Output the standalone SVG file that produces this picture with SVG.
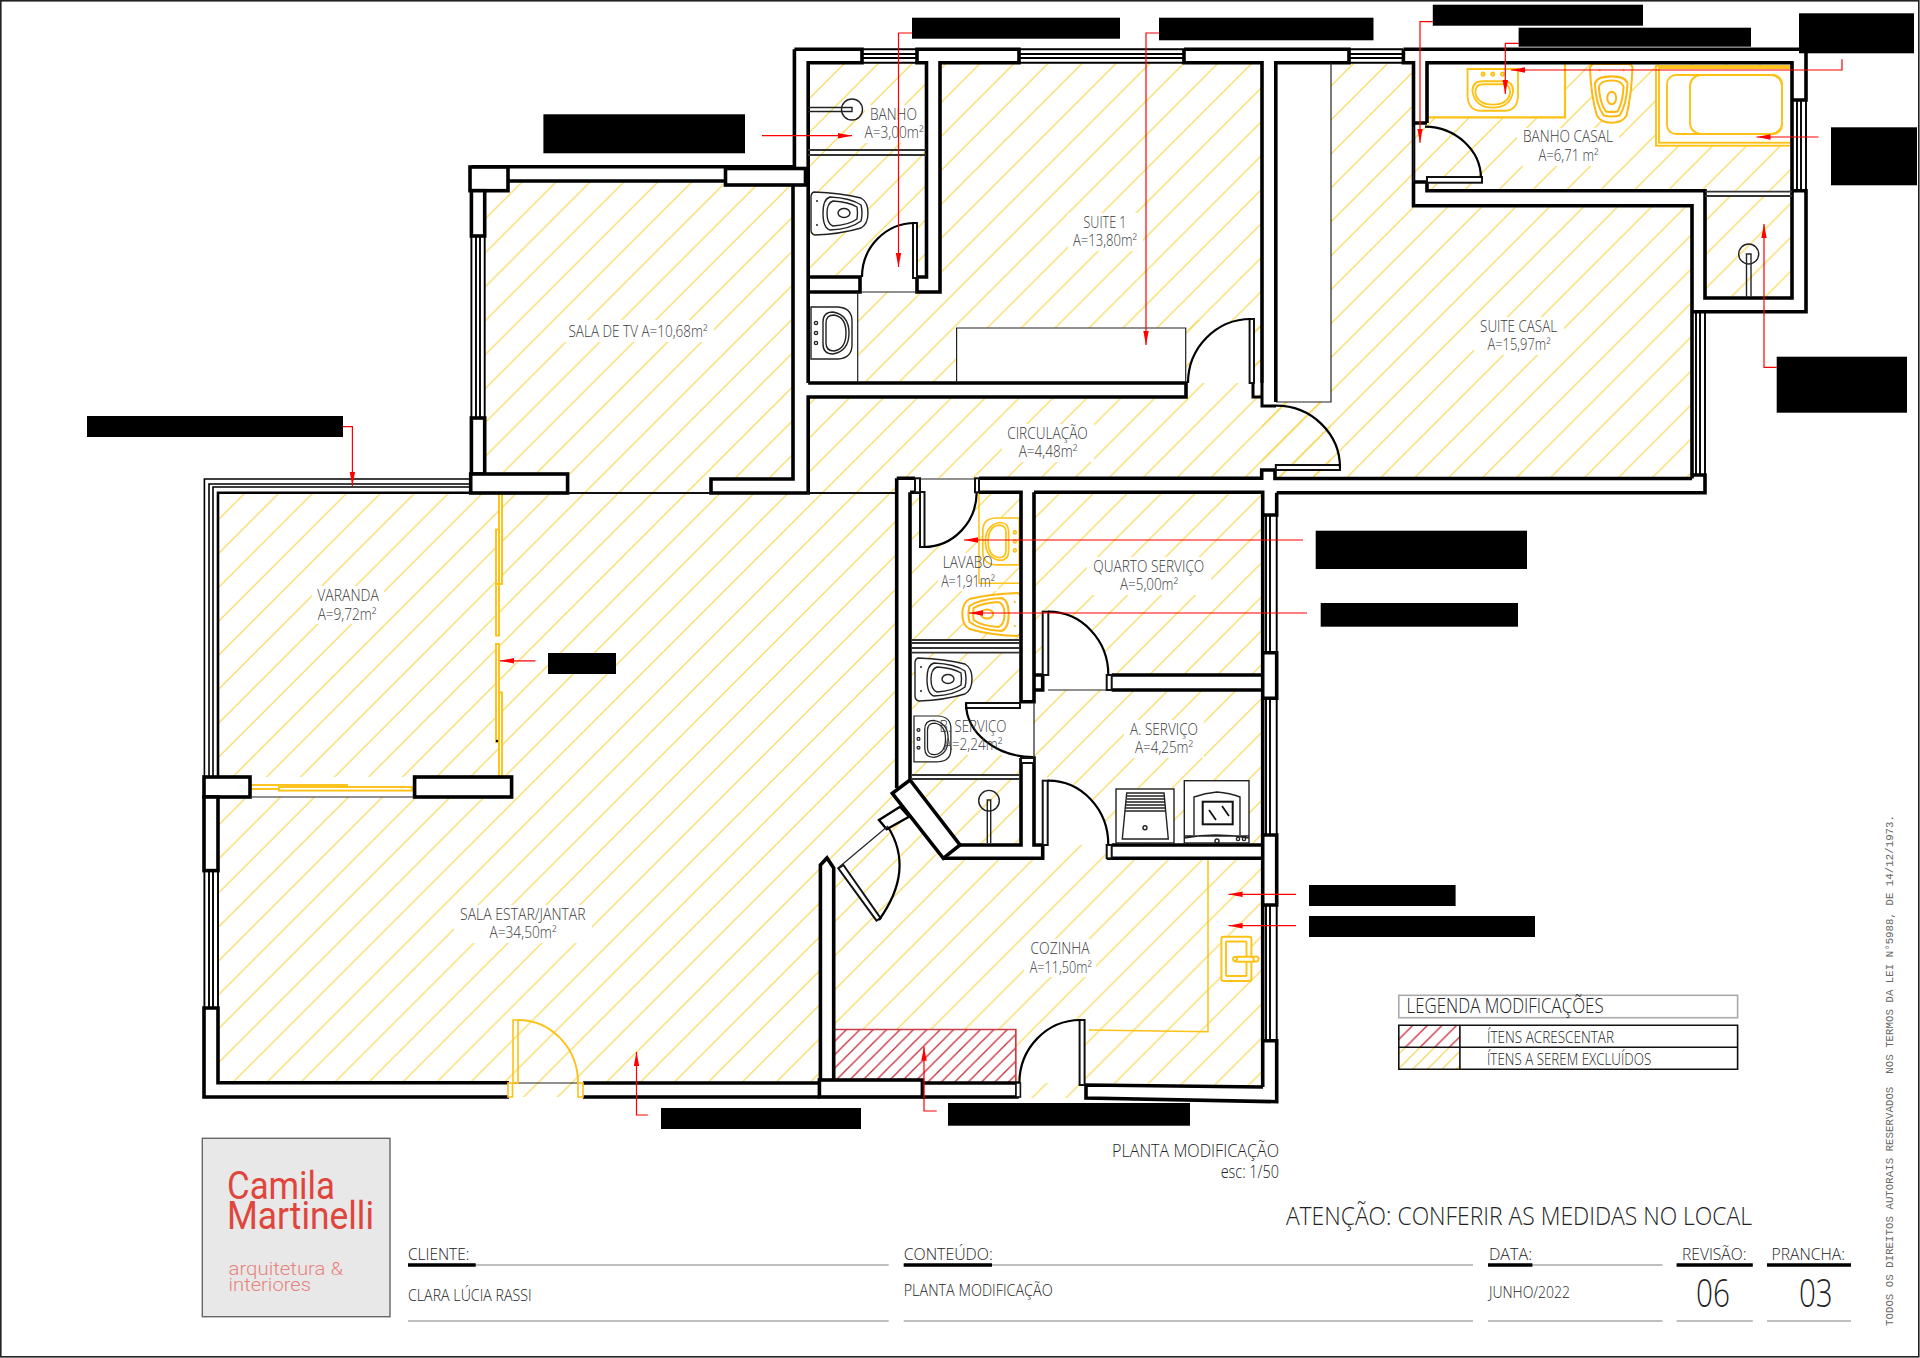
<svg xmlns="http://www.w3.org/2000/svg" width="1920" height="1358" viewBox="0 0 1920 1358">
<style>
.t{font-family:"Open Sans","Liberation Sans",sans-serif;font-weight:300;font-size:15.5px;fill:#3a3a3a;text-anchor:middle}
.l{font-family:"Open Sans","Liberation Sans",sans-serif;font-weight:300;font-size:16px;fill:#222}
.wall{fill:none;stroke:#000;stroke-width:3.6;stroke-linejoin:miter}
.blk{fill:#fff;stroke:#000;stroke-width:3.6}
.thin{fill:none;stroke:#222;stroke-width:1.2}
.win{fill:none;stroke:#000;stroke-width:1.9}
.beam{fill:none;stroke:#333;stroke-width:1.8}
.arc{fill:none;stroke:#000;stroke-width:2.2}
.leaf{fill:#fff;stroke:#111;stroke-width:2}
.y{fill:#fff;stroke:#fdc215;stroke-width:1.9}
.yn{fill:none;stroke:#fdc215;stroke-width:1.9}
.fx{fill:#fff;stroke:currentColor;stroke-width:var(--sw,1.4)}
.fxn{fill:none;stroke:currentColor;stroke-width:var(--sw,1.4)}
.arrow{fill:none;stroke:#f00;stroke-width:1.2;marker-end:url(#ah)}
.rule{stroke:#aaa;stroke-width:1.5}
.rule2{stroke:#000;stroke-width:3.4}
</style>
<defs>
<pattern id="hy" patternUnits="userSpaceOnUse" width="33.95" height="33.95" patternTransform="translate(25.1 0)">
<path d="M-1,1L1,-1M0,33.95L33.95,0M32.95,34.95L34.95,32.95" stroke="#f5d547" stroke-width="1.2" fill="none"/>
</pattern>
<pattern id="hr" patternUnits="userSpaceOnUse" width="13.4" height="13.4">
<path d="M-1,1L1,-1M0,13.4L13.4,0M12.4,14.4L14.4,12.4" stroke="#c42a38" stroke-width="1.3" fill="none"/>
</pattern>
<pattern id="hlr" patternUnits="userSpaceOnUse" width="14.6" height="14.6">
<path d="M-1,1L1,-1M0,14.6L14.6,0M13.6,15.6L15.6,13.6" stroke="#c42a38" stroke-width="1.3" fill="none"/>
</pattern>
<pattern id="hly" patternUnits="userSpaceOnUse" width="14.6" height="14.6">
<path d="M-1,1L1,-1M0,14.6L14.6,0M13.6,15.6L15.6,13.6" stroke="#f0cf45" stroke-width="1.2" fill="none"/>
</pattern>
<marker id="ah" markerUnits="userSpaceOnUse" markerWidth="14" markerHeight="7" refX="14" refY="3.5" orient="auto">
<path d="M0,0.8L14,3.5L0,6.2Z" fill="#f00"/>
</marker>
<g id="toilet">
<path class="fx" d="M3,0Q0,1 0,5L0,38Q0,42 4,43Q30,42 50,36Q57,32 57,21Q57,10 50,6Q30,1 3,0Z"/>
<path class="fxn" d="M19,5Q40,6 50,13Q52,21 50,29Q40,37 19,38Q12,36 12,21Q12,7 19,5Z"/>
<path class="fxn" d="M22,9Q38,10 46,15Q47,21 46,27Q38,33 22,34Q16,32 16,21Q16,11 22,9Z"/>
<ellipse class="fxn" cx="33" cy="21" rx="6" ry="4.5"/>
<circle cx="6" cy="9" r="1" fill="currentColor"/><circle cx="6" cy="33" r="1" fill="currentColor"/>
</g>
<g id="sink">
<path class="fx" d="M0,0L0,52L27,52Q41,51 41,38L41,14Q41,1 27,0Z"/>
<path class="fxn" d="M12,15Q12,5 22,5Q38,8 38,26Q38,44 22,47Q12,47 12,37Z"/>
<path class="fxn" d="M15,16Q15,8 23,8Q35,10 35,26Q35,42 23,44Q15,44 15,36Z"/>
<circle class="fxn" cx="5" cy="16" r="1.6"/><circle class="fxn" cx="5" cy="26" r="1.6"/><circle class="fxn" cx="5" cy="36" r="1.6"/>
</g>
</defs>
<rect width="1920" height="1358" fill="#fff"/>
<rect x="0.8" y="0.8" width="1918" height="1356" fill="none" stroke="#222" stroke-width="1.6"/>

<g id="hatch" fill="url(#hy)">
<path d="M484.7,181H725V185H793V480H711V493H567V474H484.7Z"/>
<path d="M218,493H896.7V788L943,858H1263V1087L1085,1085V1098H1019V1083H834V868L827,860L820,865V1083H583V1097H509V1083H218Z"/>
<path d="M808,62.7H926V277H808Z"/>
<path d="M940,62.7H1262V383H857.7V292H940Z"/>
<path d="M808,397H1188V320H1262V402H1331V478H896V493H808Z"/>
<path d="M1331,62.7H1413.5V205.7H1692V478H1262V402H1331Z"/>
<path d="M1427,62.7H1792V190.7H1427V182H1413.5V127H1427Z"/>
<path d="M1705,196H1792V298H1705Z"/>
<path d="M1034,492.3H1262V675H1034Z"/>
<path d="M1034,690H1262V845H1107V858H1047V760H1034Z"/>
<path d="M910,492H1021V640H910Z"/>
<path d="M910,652H1021V701H1034V760H1021V775H910Z"/>
<path d="M910,779H1021V845H960Z"/>
</g>

<g id="clear-areas" fill="#fff">
<rect x="250" y="777" width="165" height="20"/>
<rect x="808" y="292" width="50" height="90"/>
<rect x="956.6" y="328" width="229" height="54"/>
<rect x="1427" y="63" width="138" height="54"/>
<path d="M915,277L915,223A53,54 0 0 0 862,277Z"/>
<path d="M1251,383L1251,319A63,64 0 0 0 1188,383Z"/>
<path d="M922,492L924,547A53,55 0 0 0 976.7,492.3Z"/>
<path d="M1048,675L1048,611.7A60,63 0 0 1 1108.3,675Z"/>
<path d="M1047.7,845L1047.7,780.7A60,64 0 0 1 1108.3,845Z"/>
<path d="M1034,703L966,703A67,54 0 0 0 1033,757Z"/>
<path d="M1080.6,1083L1019.4,1083A61,63 0 0 1 1080.6,1020Z"/>
<rect x="862" y="277" width="55" height="15"/>
<g id="label-gaps">
<rect x="865" y="105" width="60" height="38"/>
<rect x="1068" y="213" width="75" height="38"/>
<rect x="562" y="320" width="152" height="22"/>
<rect x="1002" y="424" width="92" height="38"/>
<rect x="1517" y="128" width="102" height="38"/>
<rect x="1474" y="317" width="90" height="38"/>
<rect x="312" y="586" width="72" height="38"/>
<rect x="454" y="905" width="138" height="38"/>
<rect x="1087" y="557" width="124" height="38"/>
<rect x="1124" y="720" width="80" height="38"/>
<rect x="1024" y="939" width="72" height="38"/>
<rect x="938" y="553" width="60" height="38"/>
<rect x="936" y="717" width="74" height="38"/>
</g>
</g>

<g id="addition">
<rect x="834.7" y="1029" width="181" height="54" fill="#fff"/>
<rect x="834.7" y="1029" width="181" height="54" fill="url(#hr)"/>
<path d="M834.7,1029.5H1015.8V1083" fill="none" stroke="#cc3a44" stroke-width="1.7"/>
</g>

<g id="yellow-removed">
<path class="yn" style="stroke-width:2.2" d="M1427,117.3H1565V63"/>
<path class="yn" style="stroke-width:1.5" d="M1208,860V1031.7L1089,1030"/>
<path class="yn" style="stroke-width:1.5" d="M979,492.3V583.3H1020"/>
<rect class="y" x="1656" y="66" width="136" height="79.7"/>
<rect class="y" x="1659" y="68" width="133" height="74.7"/>
<rect class="y" x="1667" y="75" width="115" height="59" rx="9"/>
<rect class="y" x="1690" y="75" width="92" height="59" rx="11"/>
<use href="#sink" style="color:#fdc215;--sw:1.9" transform="translate(1518,69) rotate(90) scale(1.017,.97)"/>
<use href="#sink" style="color:#fdc215;--sw:1.9" transform="translate(1019.3,518) scale(-.89,.9)"/>
<use href="#toilet" style="color:#fdb913;--sw:2" transform="translate(1632.5,64) rotate(90) scale(1.03,.99)"/>
<use href="#toilet" style="color:#fdb913;--sw:2" transform="translate(1021,593) scale(-1.03,1)"/>
<rect class="y" x="1221.4" y="936.7" width="30" height="44.3" rx="2"/>
<rect class="yn" x="1226" y="941.5" width="20.5" height="34.5" rx="1"/>
<rect class="y" x="1235" y="956.7" width="20" height="5" rx="2"/>
<circle class="y" cx="1256" cy="959" r="2.6"/><circle class="y" cx="1235" cy="959" r="2"/>
<rect class="y" x="499" y="493" width="3" height="91"/>
<rect class="y" x="496" y="529.5" width="3" height="54.5"/>
<rect class="y" x="496" y="584" width="3" height="51.5"/>
<rect class="y" x="496" y="644" width="3" height="98"/>
<rect class="y" x="499" y="692.5" width="3" height="84.5"/>
<rect class="y" x="251" y="785" width="96" height="4"/>
<rect class="y" x="279" y="787" width="133" height="3.6"/>
<circle cx="497" cy="741" r="1.2" fill="#000"/>
</g>

<g id="walls">
<path class="wall" d="M794.4,49.3H862V62.7H808.2V383M808.2,277H860V292H808.2"/>
<path class="wall" d="M917,49.3H1019V62.7H940V292H917V277H926.5V62.7H917Z"/>
<path class="wall" d="M1184,49.3H1349V62.7H1275.8V402M1184,49.3V62.7H1262V383"/>
<path class="wall" d="M808.2,383H1186V397H808.2V493H711V479H793V185"/>
<path class="wall" d="M794.4,49.3V166.7H471.4M508,181H725.5"/>
<path class="wall" style="stroke-width:3" d="M1253,383V397H1262V406H1276M1262,383V397"/>
<rect class="blk" x="725.5" y="168.5" width="80" height="16.5"/>
<rect class="blk" x="470" y="167" width="38" height="23.7"/>
<rect class="blk" x="471.4" y="190.7" width="13.3" height="45.3"/>
<rect class="blk" x="471.4" y="418" width="13.3" height="56"/>
<rect class="blk" x="470.7" y="474" width="96.9" height="19"/>
<path class="thin" style="stroke:#111;stroke-width:1.8" d="M567.6,493H711M807,493H896.7"/>
<path class="win" style="stroke-width:1.6" d="M470.7,479H204.4V777M470.7,484H209V777M470.7,487H213V777"/>
<path class="wall" style="stroke-width:2.6" d="M470.7,492.7H218V777"/>
<rect class="blk" x="204" y="777" width="46" height="20"/>
<rect class="blk" x="414.6" y="777" width="97" height="20"/>
<path class="thin" d="M250,797H414.6"/>
<rect class="blk" x="204" y="797" width="14" height="73.6"/>
<path class="wall" d="M509,1097H204V1008H218V1082.7H509"/>
<path class="wall" d="M583,1083H820M583,1097H820"/>
<path class="wall" d="M820.4,1080V865L827,858L833.7,868V1080"/>
<rect class="blk" x="819.4" y="1080" width="103" height="17"/>
<path class="wall" d="M922,1083H1017V1097H922"/>
<rect class="leaf" style="stroke-width:1.6" x="1016" y="1083" width="4.4" height="14"/>
<path class="wall" d="M896.7,478.3V788M910,492.3V780M896.7,478.3H915M979,478.3H1261.7V470H1275V478.5H1692M910,492.3H920"/>
<path class="wall" d="M979,492.3H1021V701.7H1034V492.3V675H1042.7V690H1034V701.7"/>
<path class="wall" d="M1021,758H1034V845H1042.7V858.3H943.3M1021,758V845H960"/>
<path class="wall" d="M1034,492.3H1262.7V1087M1111.7,675H1262.7M1111.7,690H1262.7M1111.7,845H1262.7M1107,858.3H1262.7"/>
<path class="wall" d="M1276.7,492.7V515H1262.7M1262.7,652.7H1276.7V698.3H1262.7M1262.7,835H1276.7V905H1262.7M1262.7,1040.7H1276.7V1101.7L1086,1098V1085L1263,1087"/>
<path class="wall" d="M1403.4,49.3V62.7H1413.5V205.7H1692V478.5M1403.4,49.3H1806V100H1792M1427,123V62.7H1792V298H1705V190.7H1427V182M1413.5,123H1427M1413.5,182H1427M1792,190.7H1806V311.7H1692"/>
<path class="wall" d="M1692,475H1705V492.7H1276.7"/>
<polygon class="blk" points="910,780 960,845 943.3,858.3 892.3,793.3"/>
<polygon class="blk" style="stroke-width:2.4" points="879,820 900,806.7 909,816.7 886.7,829.3"/>
</g>

<g id="windows" class="win">
<path d="M862,54H917M862,58H917M862,49.3H917M862,62.7H917"/>
<path d="M1019,49.3H1184M1019,54H1184M1019,58H1184M1019,62.7H1184"/>
<path d="M1349,49.3H1403M1349,54H1403M1349,58H1403M1349,62.7H1403"/>
<path d="M476,236V418M480,236V418M471.4,236V418M484.7,236V418"/>
<path d="M204.4,870.6V1008M209,870.6V1008M213,870.6V1008M218,870.6V1008"/>
<path d="M1797,100V190.7M1801,100V190.7M1806,100V190.7"/>
<path d="M1696,311.7V475M1700,311.7V475M1705,311.7V475"/>
<path d="M1266,515V652.7M1270,515V652.7M1276.7,515V652.7M1266,698.3V835M1270,698.3V835M1276.7,698.3V835"/>
<path d="M1266,905V1040.7M1270,905V1040.7M1276.7,905V1040.7"/>
</g>
<g id="thin-lines">
<path class="thin" d="M860,292H917M857.7,292V382M1331,63V402H1276M956.6,382V328H1185.7V382"/>
<path class="thin" d="M1048,690H1107M1034,702V758M1413.5,127V182M920,479H975"/>
<path class="thin" d="M513,1083H578"/>
<path class="beam" d="M808,150H926M808,155H926"/>
<path class="beam" d="M1705,191.7H1792M1705,196H1792"/>
<path class="beam" d="M911,640H1019M911,643H1019M911,648H1019M911,652.7H1019"/>
<path class="beam" d="M911,775H1019M911,779H1019"/>
</g>

<g id="doors">
<rect class="leaf" x="913" y="223" width="4" height="55"/>
<path class="arc" d="M915,223A53,54 0 0 0 862,277"/>
<rect class="leaf" x="1249.6" y="319" width="4.4" height="64"/>
<path class="arc" d="M1251,319A63,64 0 0 0 1188,383"/>
<rect class="leaf" x="1427" y="177" width="55" height="5.7"/>
<path class="arc" d="M1425,126.7A57,52 0 0 1 1481,178"/>
<rect class="leaf" x="1275.8" y="465" width="64.2" height="5"/>
<path class="arc" d="M1275.8,405.7A64,62 0 0 1 1340,468"/>
<rect class="leaf" x="920" y="492" width="4.5" height="55"/>
<path class="arc" d="M924,547A53,55 0 0 0 976.7,492.3"/>
<rect class="leaf" x="915" y="478.3" width="5" height="14"/>
<rect class="leaf" x="975" y="478.3" width="4" height="14"/>
<rect class="leaf" x="1042.7" y="611.7" width="5.6" height="63.3"/>
<path class="arc" d="M1048,611.7A60,63 0 0 1 1108.3,675"/>
<rect class="leaf" x="1106.7" y="675" width="5" height="15"/>
<rect class="leaf" x="1042.7" y="780.7" width="5" height="64.3"/>
<path class="arc" d="M1047.7,780.7A60,64 0 0 1 1108.3,845"/>
<rect class="leaf" x="1106.7" y="845" width="5" height="13.3"/>
<rect class="leaf" x="966" y="703" width="54" height="5"/>
<path class="arc" d="M966,703A67,54 0 0 0 1033,757"/>
<rect class="leaf" x="1021" y="758" width="13" height="5"/>
<rect class="leaf" x="1079.6" y="1020" width="5" height="65"/>
<path class="arc" d="M1019.4,1083A61,63 0 0 1 1080.6,1020"/>
<polygon class="leaf" points="838.3,868.3 843.4,865 880.6,918.3 876.5,920.7"/>
<path class="thin" d="M838,868L888,826"/>
<path class="arc" d="M888,827Q915,870 879,920"/>
<rect x="513" y="1020" width="5" height="63" fill="none" stroke="#fdc215" stroke-width="1.6"/>
<path class="yn" d="M518,1020A60,63 0 0 1 578,1083"/>
<rect x="508" y="1083" width="4.5" height="14" fill="#fff" stroke="#fdc215" stroke-width="1.6"/>
<rect x="578" y="1083" width="5" height="14" fill="#fff" stroke="#fdc215" stroke-width="1.6"/>
</g>

<g id="fixtures" style="color:#222">
<use href="#toilet" transform="translate(811,192)"/>
<use href="#toilet" transform="translate(915,658)"/>
<use href="#sink" transform="translate(811,307)"/>
<use href="#sink" transform="translate(914,716) scale(.9,.88)"/>
<circle class="fxn" cx="852" cy="109.5" r="10.5"/>
<path class="fxn" d="M808,107.5H852V111.5H808"/>
<circle class="fxn" cx="1748.7" cy="254" r="10"/>
<path class="fxn" d="M1746.5,297V254H1751V297"/>
<circle class="fxn" cx="989" cy="800.7" r="10.3"/>
<path class="fxn" d="M987.3,843V800H990.7V843"/>
<rect class="fx" x="1116" y="789" width="58" height="54"/>
<path class="fx" d="M1126.7,793H1164L1168.3,839H1122.3Z"/>
<path class="fxn" d="M1127,796H1164M1127,799H1164M1126,802H1165M1126,805H1165M1126,808H1165M1125,811H1165"/>
<circle class="fxn" cx="1145" cy="827.7" r="2"/>
<rect class="fx" x="1184.3" y="780.7" width="64.7" height="62.3"/>
<path class="fxn" d="M1194,835V797Q1205,793 1217,792Q1230,793 1240,797V835"/>
<rect x="1202.7" y="801.7" width="30" height="22.6" fill="#fff" stroke="#111" stroke-width="2"/>
<path d="M1209,810L1216,820M1222,806L1229,816" stroke="#111" stroke-width="1.8" fill="none"/>
<path class="fxn" d="M1184.3,836H1249M1184.3,838Q1215,832 1249,838"/>
<circle class="fxn" cx="1217" cy="841" r="2"/><circle class="fxn" cx="1238" cy="839" r="1.6"/><circle class="fxn" cx="1244" cy="839" r="1.6"/>
</g>

<g id="room-labels">
<text class="t" x="893.4" y="120" textLength="47" lengthAdjust="spacingAndGlyphs">BANHO</text>
<text class="t" x="894" y="138" textLength="59" lengthAdjust="spacingAndGlyphs">A=3,00m²</text>
<text class="t" x="1105" y="228" textLength="43" lengthAdjust="spacingAndGlyphs">SUITE 1</text>
<text class="t" x="1105" y="246" textLength="64" lengthAdjust="spacingAndGlyphs">A=13,80m²</text>
<text class="t" x="638" y="337" textLength="139" lengthAdjust="spacingAndGlyphs">SALA DE TV A=10,68m²</text>
<text class="t" x="1047.5" y="439" textLength="80.6" lengthAdjust="spacingAndGlyphs">CIRCULAÇÃO</text>
<text class="t" x="1048" y="456.7" textLength="58.7" lengthAdjust="spacingAndGlyphs">A=4,48m²</text>
<text class="t" x="1568" y="142" textLength="90" lengthAdjust="spacingAndGlyphs">BANHO CASAL</text>
<text class="t" x="1568.5" y="160.7" textLength="60" lengthAdjust="spacingAndGlyphs">A=6,71 m²</text>
<text class="t" x="1518.6" y="331.7" textLength="77" lengthAdjust="spacingAndGlyphs">SUITE CASAL</text>
<text class="t" x="1519" y="350" textLength="63" lengthAdjust="spacingAndGlyphs">A=15,97m²</text>
<text class="t" x="348" y="601" textLength="61.7" lengthAdjust="spacingAndGlyphs">VARANDA</text>
<text class="t" x="347" y="619.5" textLength="58.7" lengthAdjust="spacingAndGlyphs">A=9,72m²</text>
<text class="t" x="522.8" y="919.7" textLength="125.5" lengthAdjust="spacingAndGlyphs">SALA ESTAR/JANTAR</text>
<text class="t" x="523" y="938" textLength="67" lengthAdjust="spacingAndGlyphs">A=34,50m²</text>
<text class="t" x="967.7" y="568" textLength="50" lengthAdjust="spacingAndGlyphs">LAVABO</text>
<text class="t" x="968" y="586.7" textLength="53.7" lengthAdjust="spacingAndGlyphs">A=1,91m²</text>
<text class="t" x="1148.8" y="571.7" textLength="111" lengthAdjust="spacingAndGlyphs">QUARTO SERVIÇO</text>
<text class="t" x="1149" y="590" textLength="58" lengthAdjust="spacingAndGlyphs">A=5,00m²</text>
<text class="t" x="973" y="731.7" textLength="67" lengthAdjust="spacingAndGlyphs">B. SERVIÇO</text>
<text class="t" x="973" y="750" textLength="58.7" lengthAdjust="spacingAndGlyphs">A=2,24m²</text>
<text class="t" x="1164" y="735" textLength="68" lengthAdjust="spacingAndGlyphs">A. SERVIÇO</text>
<text class="t" x="1164" y="753" textLength="58" lengthAdjust="spacingAndGlyphs">A=4,25m²</text>
<text class="t" x="1060" y="954" textLength="59" lengthAdjust="spacingAndGlyphs">COZINHA</text>
<text class="t" x="1060.7" y="972.7" textLength="62" lengthAdjust="spacingAndGlyphs">A=11,50m²</text>
</g>

<g id="connectors">
<path class="arrow" d="M912,33H898.5V267"/>
<path class="arrow" d="M1159,33H1146V345"/>
<path class="arrow" d="M762,135.7H852"/>
<path class="arrow" d="M1432.8,21.7H1420V142.7"/>
<path class="arrow" d="M1518.6,43.3H1505.3V94"/>
<path class="arrow" d="M1842,59.3V70H1511"/>
<path class="arrow" d="M1818.5,137H1756.5"/>
<path class="arrow" d="M1776.7,367.3H1764V224"/>
<path class="arrow" d="M343,426.6H352.4V486"/>
<path class="arrow" d="M535.5,660.8H500"/>
<path class="arrow" d="M647.8,1115H636.5V1052"/>
<path class="arrow" d="M936.7,1111H924V1046.7"/>
<path class="arrow" d="M1296,894.3H1228.6"/>
<path class="arrow" d="M1296,925.7H1228.6"/>
<path class="arrow" d="M1303,540H964"/>
<path class="arrow" d="M1307,613H969"/>
</g>

<g id="redacted-labels" fill="#000">
<rect x="912" y="17.7" width="208" height="21"/>
<rect x="1159" y="17.7" width="214.5" height="22.6"/>
<rect x="1432.8" y="4.7" width="210.2" height="21"/>
<rect x="1518.6" y="27.7" width="232.4" height="19"/>
<rect x="1799" y="13.3" width="115" height="40"/>
<rect x="1831" y="127.3" width="86" height="58"/>
<rect x="1776.7" y="356.7" width="130.3" height="56"/>
<rect x="543.4" y="114.3" width="201.6" height="39"/>
<rect x="87" y="416" width="256" height="21"/>
<rect x="548" y="653" width="68" height="21"/>
<rect x="661" y="1108" width="200" height="21"/>
<rect x="948" y="1103" width="242" height="22.7"/>
<rect x="1309" y="885" width="146.6" height="21"/>
<rect x="1309" y="916" width="226" height="21"/>
<rect x="1315.7" y="530.7" width="211.3" height="38.3"/>
<rect x="1320.7" y="603" width="197.3" height="23.7"/>
</g>

<g id="legend">
<rect x="1398.8" y="995.3" width="338.8" height="22.4" fill="#fff" stroke="#aaa" stroke-width="1.6"/>
<text class="l" x="1406.6" y="1012.7" style="font-size:20px" textLength="197" lengthAdjust="spacingAndGlyphs">LEGENDA MODIFICAÇÕES</text>
<rect x="1398.8" y="1025.3" width="61.1" height="22" fill="url(#hlr)"/>
<rect x="1398.8" y="1047.3" width="61.1" height="22" fill="url(#hly)"/>
<path d="M1398.8,1025.3H1737.6V1069.3H1398.8ZM1398.8,1047.3H1737.6M1459.9,1025.3V1069.3" fill="none" stroke="#111" stroke-width="1.6"/>
<text class="l" x="1487" y="1043.3" style="font-size:15.5px" textLength="127" lengthAdjust="spacingAndGlyphs">ÍTENS ACRESCENTAR</text>
<text class="l" x="1487" y="1064.7" style="font-size:15.5px" textLength="164.3" lengthAdjust="spacingAndGlyphs">ÍTENS A SEREM EXCLUÍDOS</text>
</g>

<g id="title-block">
<text class="l" x="1112" y="1156.7" style="font-size:17.5px" textLength="167" lengthAdjust="spacingAndGlyphs">PLANTA MODIFICAÇÃO</text>
<text class="l" x="1220.7" y="1178.3" style="font-size:17.5px" textLength="58.3" lengthAdjust="spacingAndGlyphs">esc: 1/50</text>
<text class="l" x="1285.9" y="1225" style="font-size:25.5px" textLength="466" lengthAdjust="spacingAndGlyphs">ATENÇÃO: CONFERIR AS MEDIDAS NO LOCAL</text>
<rect x="202.3" y="1138.3" width="187.7" height="178.4" fill="#e8e8e8" stroke="#666" stroke-width="1.4"/>
<text x="227" y="1199.3" font-family="Roboto,'Liberation Sans',sans-serif" font-size="38" fill="#e0453c" textLength="108" lengthAdjust="spacingAndGlyphs">Camila</text>
<text x="227" y="1229.3" font-family="Roboto,'Liberation Sans',sans-serif" font-size="38" fill="#e0453c" textLength="147" lengthAdjust="spacingAndGlyphs">Martinelli</text>
<text x="228.5" y="1275" font-family="Roboto,'Liberation Sans',sans-serif" font-weight="300" font-size="19" fill="#e8837c" textLength="114.5" lengthAdjust="spacingAndGlyphs">arquitetura &amp;</text>
<text x="228.5" y="1290.7" font-family="Roboto,'Liberation Sans',sans-serif" font-weight="300" font-size="19" fill="#e8837c" textLength="82.5" lengthAdjust="spacingAndGlyphs">interiores</text>
<path class="rule" d="M408,1265H888.7M903.7,1265H1473M1488,1265H1662.4"/>
<path class="rule" d="M408,1321H888.7M903.7,1321H1473M1488,1321H1662.4M1676.6,1321H1752.8M1767,1321H1851"/>
<path class="rule2" d="M408,1265H475.7M903.7,1265H992M1488,1265H1532.4M1676.6,1265H1752.8M1767,1265H1851"/>
<text class="l" x="408" y="1260" textLength="61.4" lengthAdjust="spacingAndGlyphs">CLIENTE:</text>
<text class="l" x="903.7" y="1260" textLength="89" lengthAdjust="spacingAndGlyphs">CONTEÚDO:</text>
<text class="l" x="1489" y="1260" textLength="43" lengthAdjust="spacingAndGlyphs">DATA:</text>
<text class="l" x="1682" y="1260" textLength="64.4" lengthAdjust="spacingAndGlyphs">REVISÃO:</text>
<text class="l" x="1771.6" y="1260" textLength="73.4" lengthAdjust="spacingAndGlyphs">PRANCHA:</text>
<text class="l" x="408" y="1301" style="font-size:15.5px" textLength="123.6" lengthAdjust="spacingAndGlyphs">CLARA LÚCIA RASSI</text>
<text class="l" x="903.7" y="1295.7" style="font-size:15.5px" textLength="149" lengthAdjust="spacingAndGlyphs">PLANTA MODIFICAÇÃO</text>
<text class="l" x="1489" y="1298" style="font-size:15.5px" textLength="81" lengthAdjust="spacingAndGlyphs">JUNHO/2022</text>
<text class="l" x="1696" y="1306.7" style="font-size:39px" textLength="34" lengthAdjust="spacingAndGlyphs">06</text>
<text class="l" x="1799" y="1306.7" style="font-size:39px" textLength="33.7" lengthAdjust="spacingAndGlyphs">03</text>
<text transform="translate(1893,1326) rotate(-90)" font-family="'Liberation Mono','Courier New',monospace" font-size="10.7" fill="#666" textLength="511" xml:space="preserve">TODOS OS DIREITOS AUTORAIS RESERVADOS  NOS TERMOS DA LEI N°5988, DE 14/12/1973.</text>
</g>
</svg>
